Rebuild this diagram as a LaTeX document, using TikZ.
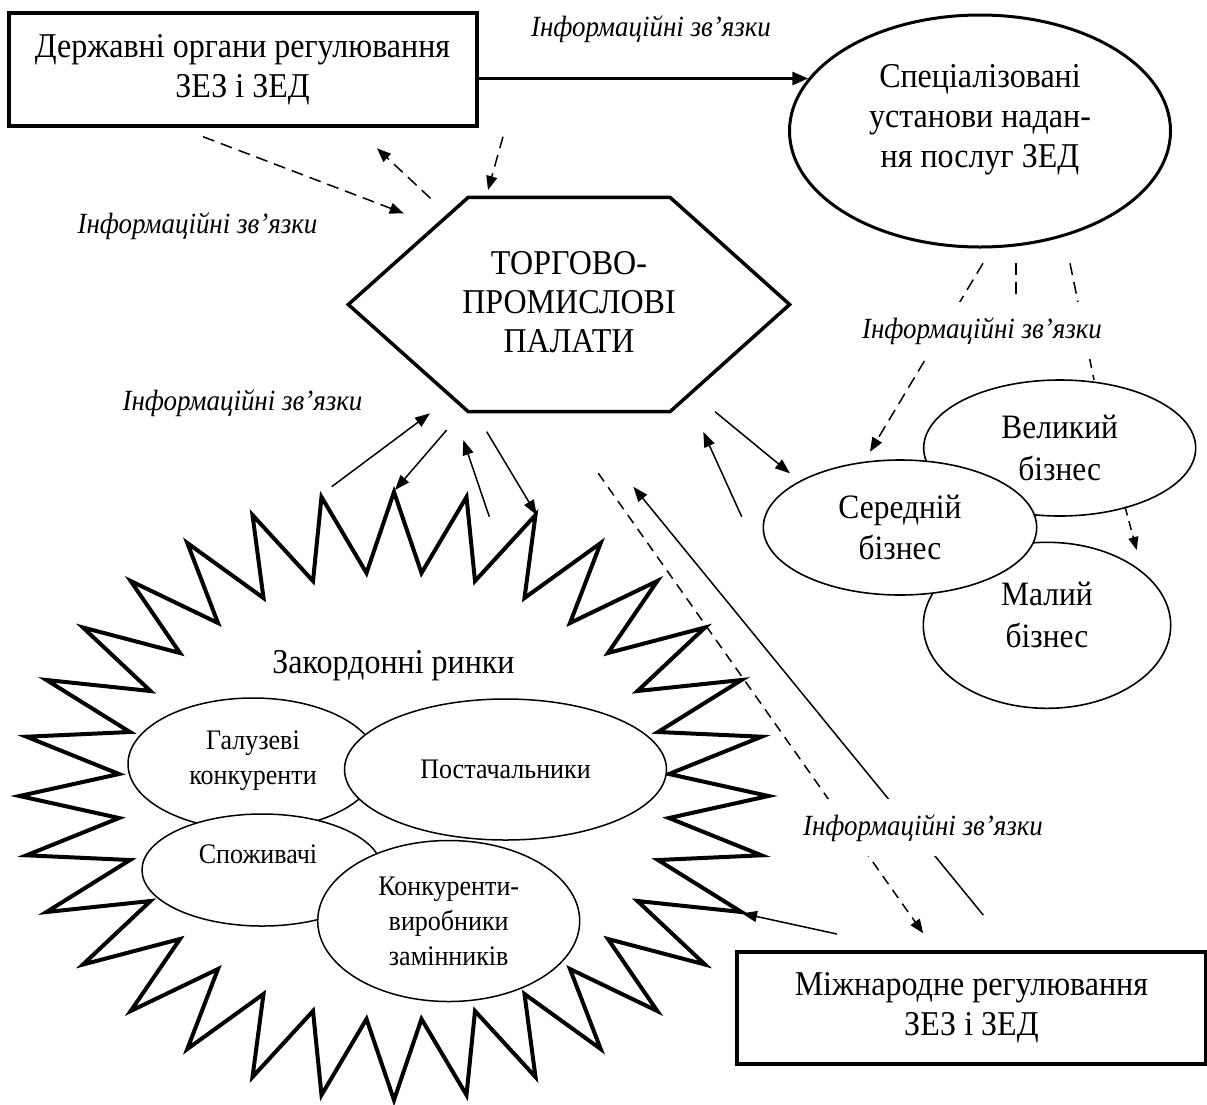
\documentclass[tikz,border=0pt]{standalone}
\usepackage{fontspec}
\setmainfont{Liberation Serif}[FakeStretch=0.92]
\usetikzlibrary{arrows.meta,shapes.geometric}
\newcommand\fszA{\fontsize{34.8pt}{39.5pt}\selectfont}
\newcommand\fszH{\fontsize{34.8pt}{39pt}\selectfont}
\newcommand\fszC{\fontsize{34.8pt}{40pt}\selectfont}
\newcommand\fszB{\fontsize{34.2pt}{41.6pt}\selectfont}
\newcommand\fszS{\fontsize{28.3pt}{35pt}\selectfont}
\newcommand\fszL{\fontsize{29.3pt}{30pt}\selectfont\itshape}
\begin{document}
\begin{tikzpicture}[x=1pt,y=-1pt,
  thickbox/.style={draw, line width=4pt, rectangle, inner sep=0pt, align=center, font=\fszA, fill=white},
  bigell/.style={draw, ellipse, line width=3pt, inner sep=0pt, fill=white},
  bizell/.style={draw, ellipse, line width=1.6pt, inner sep=0pt, fill=white, align=center, font=\fszB},
  smallell/.style={draw, ellipse, line width=1.5pt, inner sep=0pt, fill=white, align=center, font=\fszS},
  txt/.style={inner sep=0pt, align=center},
  lab/.style={font=\fszL, inner sep=1pt},
  wlab/.style={font=\fszL, fill=white, inner xsep=1pt, inner ysep=15pt},
  arr/.style={line width=1.5pt, -{Triangle[length=15pt,width=11pt]}},
  darr/.style={line width=1.5pt, dash pattern=on 12pt off 7pt, -{Triangle[length=14pt,width=11pt]}},
  dln/.style={line width=1.5pt, dash pattern=on 12pt off 7pt},
]
\useasboundingbox (0,0) rectangle (1207,1104);
\fill[white] (0,0) rectangle (1207,1104);

% star (foreign markets)
\begin{scope}[shift={(394,796)}, yscale=-1]
\draw[line width=4pt, line join=miter, fill=white]
(0,304) -- (27.5,223) -- (72.5,299) -- (81,215) -- (141.5,281) -- (130.5,198) -- (206.7,253) -- (176,173) -- (263.3,215) -- (214,143) -- (311,168.5) -- (243.5,105) -- (347.5,116) -- (264,64) -- (367.5,59.3) -- (275,22) -- (374.5,0)
-- (275,-22) -- (367.5,-59.3) -- (264,-64) -- (347.5,-116) -- (243.5,-105) -- (311,-168.5) -- (214,-143) -- (263.3,-215) -- (176,-173) -- (206.7,-253) -- (130.5,-198) -- (141.5,-281) -- (81,-215) -- (72.5,-299) -- (27.5,-223) -- (0,-304)
-- (-27.5,-223) -- (-72.5,-299) -- (-81,-215) -- (-141.5,-281) -- (-130.5,-198) -- (-206.7,-253) -- (-176,-173) -- (-263.3,-215) -- (-214,-143) -- (-311,-168.5) -- (-243.5,-105) -- (-347.5,-116) -- (-264,-64) -- (-367.5,-59.3) -- (-275,-22) -- (-374.5,0)
-- (-275,22) -- (-367.5,59.3) -- (-264,64) -- (-347.5,116) -- (-243.5,105) -- (-311,168.5) -- (-214,143) -- (-263.3,215) -- (-176,173) -- (-206.7,253) -- (-130.5,198) -- (-141.5,281) -- (-81,215) -- (-72.5,299) -- (-27.5,223) -- cycle;
\end{scope}

\node[txt, font=\fszH, anchor=base] (zak) at (393.5,673.3) {Закордонні ринки};
\node[smallell, minimum width=250pt, minimum height=132pt] (gal) at (253,764) {};
\node[txt, font=\fszS] (galtxt) at (253,761) {Галузеві\\конкуренти};
\node[smallell, minimum width=322pt, minimum height=141pt] (post) at (505.5,769.5) {Постачальники};
\node[smallell, minimum width=240pt, minimum height=112pt] (spoz) at (262,870) {};
\node[txt, font=\fszS] (spoztxt) at (258,854) {Споживачі};
\node[smallell, minimum width=262pt, minimum height=161pt] (konk) at (448.7,921) {Конкуренти-\\виробники\\замінників};

% hexagon
\draw[line width=3.5pt, line join=miter, fill=white] (348.3,304.5) -- (468.3,197.3) -- (670,197.3) -- (789.6,304.5) -- (670,411.7) -- (468.3,411.7) -- cycle;
\node[txt, font=\fszH] (tpp) at (569,302) {ТОРГОВО-\\ПРОМИСЛОВІ\\ПАЛАТИ};

% boxes
\node[thickbox, minimum width=468pt, minimum height=112.7pt] (gov) at (242.5,69.7) {Державні органи регулювання\\ЗЕЗ і ЗЕД};
\node[thickbox, minimum width=469.2pt, minimum height=112.3pt] (intl) at (971.4,1007.8) {Міжнародне регулювання\\ЗЕЗ і ЗЕД};

% specialised institutions
\node[bigell, minimum width=381pt, minimum height=232pt] (spec) at (980,131) {};
\node[txt, font=\fszC] (spectxt) at (980,120) {Спеціалізовані\\установи надан-\\ня послуг ЗЕД};

% business ellipses
\node[bizell, minimum width=272pt, minimum height=136pt] (big) at (1059.7,448) {Великий\\бізнес};
\node[bizell, minimum width=247.4pt, minimum height=166pt] (small) at (1047,625.3) {};
\node[txt, font=\fszB] (smalltxt) at (1047,615) {Малий\\бізнес};
\node[bizell, minimum width=273.4pt, minimum height=135pt] (mid) at (900,527.5) {Середній\\бізнес};

% coordinates of free ends
\coordinate (d1a) at (203,136.7);   \coordinate (d1b) at (403.7,213.3);
\coordinate (d2a) at (430.5,198.3); \coordinate (d2b) at (377,148.3);
\coordinate (d3a) at (503,136.7);   \coordinate (d3b) at (488,190);
\coordinate (s1a) at (331.7,486.7); \coordinate (s1b) at (430,413.3);
\coordinate (s2a) at (446.7,430);   \coordinate (s2b) at (395,490);
\coordinate (s3a) at (489.3,516.7); \coordinate (s3b) at (463.3,440);
\coordinate (s4a) at (486.7,431.7); \coordinate (s4b) at (536.7,515);
\coordinate (m1a) at (715,411.7);   \coordinate (m1b) at (790,473.3);
\coordinate (m2a) at (741.7,516.7); \coordinate (m2b) at (703.3,432);
\coordinate (l1a) at (598.3,473.3); \coordinate (l1b) at (923.2,933.3);
\coordinate (l2a) at (983.2,915);   \coordinate (l2b) at (633.3,486.7);
\coordinate (i1a) at (836.8,934);   \coordinate (i1b) at (742,913.3);
\coordinate (r1a) at (983,263.3);   \coordinate (r1b) at (870,451.7);
\coordinate (r2a) at (1016,263.3);  \coordinate (r2b) at (1016,300);
\coordinate (r3a) at (1070,263.3);  \coordinate (r3b) at (1094,380);
\coordinate (bma) at (1125,506.7);  \coordinate (bmb) at (1136.7,550);

% connectors
\draw[line width=3pt, -{Triangle[length=16pt,width=13pt]}] (gov.east |- spec.163) -- (spec.163);
\draw[darr] (d1a) -- (d1b);
\draw[darr] (d2a) -- (d2b);
\draw[darr] (d3a) -- (d3b);
\draw[arr] (s1a) -- (s1b);
\draw[arr] (s2a) -- (s2b);
\draw[arr] (s3a) -- (s3b);
\draw[arr] (s4a) -- (s4b);
\draw[arr] (m1a) -- (m1b);
\draw[arr] (m2a) -- (m2b);
\draw[line width=1.5pt, dash pattern=on 10pt off 7pt, -{Triangle[length=14pt,width=11pt]}] (l1a) -- (l1b);
\draw[arr] (l2a) -- (l2b);
\draw[arr] (i1a) -- (i1b);
\draw[darr] (r1a) -- (r1b);
\draw[dln] (r2a) -- (r2b);
\draw[dln] (r3a) -- (r3b);
\draw[line width=1.5pt, dash pattern=on 9pt off 6pt, -{Triangle[length=13pt,width=10pt]}] (bma) -- (bmb);

% labels
\node[lab, anchor=base] (lt) at (651,36.7) {Інформаційні зв’язки};
\node[lab, anchor=base] (ll1) at (197.5,233.3) {Інформаційні зв’язки};
\node[lab, anchor=base] (ll2) at (242.5,410) {Інформаційні зв’язки};
\node[wlab, anchor=base] (lr) at (982,338) {Інформаційні зв’язки};
\node[wlab, anchor=base] (lb) at (923,835) {Інформаційні зв’язки};
\end{tikzpicture}
\end{document}
